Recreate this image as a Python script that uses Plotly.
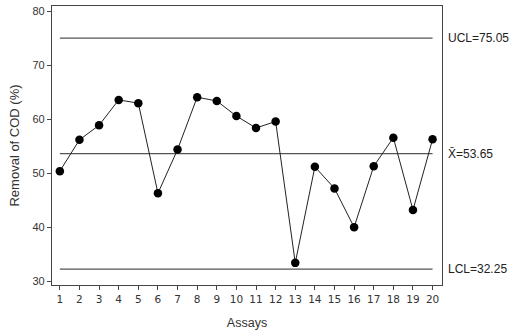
import plotly.graph_objects as go

assays = list(range(1, 21))
removal = [50.4, 56.2, 58.9, 63.6, 63.0, 46.3, 54.4, 64.1, 63.4, 60.6,
           58.4, 59.6, 33.4, 51.2, 47.2, 40.0, 51.3, 56.6, 43.2, 56.3]
ucl = 75.05
center = 53.65
lcl = 32.25
limit_values = [ucl, center, lcl]
limit_labels = ["UCL=75.05", "X\u0304=53.65", "LCL=32.25"]
y_ticks = [30, 40, 50, 60, 70, 80]

fig = go.Figure()
for v in limit_values:
    fig.add_trace(go.Scatter(x=[assays[0], assays[-1]], y=[v, v], mode="lines",
                             line=dict(color="#555555", width=1.2),
                             showlegend=False, hoverinfo="skip"))
fig.add_trace(go.Scatter(x=assays, y=removal, mode="lines+markers",
                         line=dict(color="#222222", width=1),
                         marker=dict(color="black", size=8.5),
                         showlegend=False))
for v, t in zip(limit_values, limit_labels):
    fig.add_annotation(x=1, xref="paper", xanchor="left", xshift=4,
                       y=v, yref="y", yanchor="middle", text=t, showarrow=False,
                       font=dict(family="Liberation Sans, Arial", size=12, color="#222222"))

fig.update_layout(
    width=510, height=332,
    margin=dict(l=52, r=68, t=5, b=45),
    paper_bgcolor="white", plot_bgcolor="white",
    font=dict(family="Liberation Sans, Arial", size=11, color="#333333"),
    xaxis=dict(range=[0.6, 20.48], tickvals=assays, ticks="outside", ticklen=4,
               tickcolor="#444444", showline=True, linecolor="#444444", linewidth=1.2,
               mirror=True, showgrid=False, zeroline=False,
               tickfont=dict(family="DejaVu Sans", size=10.5, color="#333333"),
               title=dict(text="Assays", font=dict(size=12.5, color="#333333"), standoff=14)),
    yaxis=dict(range=[29.3, 81.0], tickvals=y_ticks, ticks="outside", ticklen=4,
               tickcolor="#444444", showline=True, linecolor="#444444", linewidth=1.2,
               mirror=True, showgrid=False, zeroline=False,
               tickfont=dict(size=11, color="#333333"),
               title=dict(text="Removal of COD (%)", font=dict(size=13, color="#333333"), standoff=9)),
)
fig.write_html("out.html")
